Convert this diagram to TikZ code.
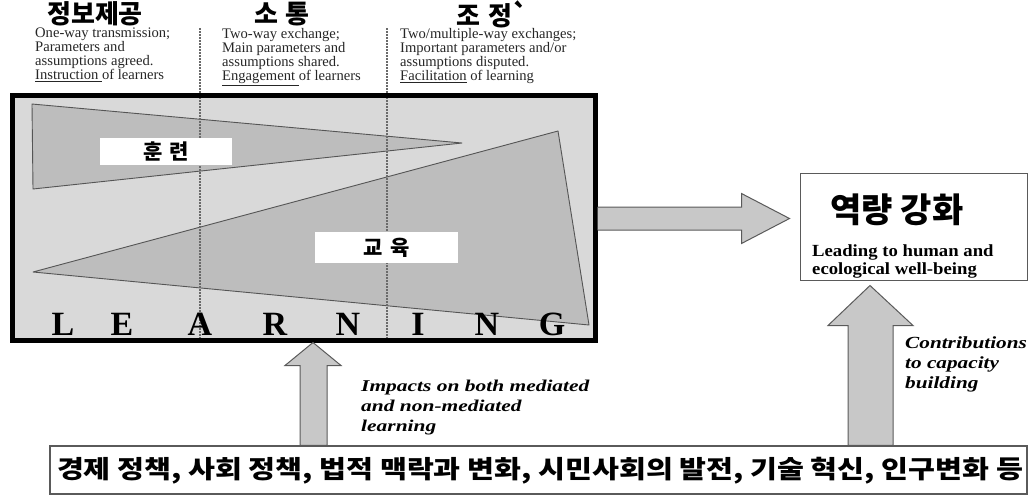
\documentclass[tikz,border=0pt]{standalone}
\usepackage{fontspec}
\usepackage{graphicx}
\setmainfont{Liberation Serif}
\newfontfamily\kr{Noto Sans CJK KR}
\usetikzlibrary{calc}
\definecolor{framefill}{HTML}{D9D9D9}
\definecolor{trifill}{HTML}{BDBDBD}
\definecolor{triline}{HTML}{555555}
\definecolor{arrfill}{HTML}{C8C8C8}
\definecolor{arrline}{HTML}{5A5A5A}
\definecolor{dashcol}{HTML}{6A6A6A}
\newcommand\widetext[2]{\scalebox{#1}[1]{\begin{tabular}{@{}l@{}}#2\end{tabular}}}
\tikzset{
  tri/.style={fill=trifill, draw=triline, line width=0.9pt, line join=round},
  guide/.style={draw=dashcol, line width=1.1pt, dash pattern=on 1.6pt off 1.4pt},
  labelbox/.style={fill=white, inner sep=0pt, font=\kr\bfseries\fontsize{21}{21}\selectfont},
  heading/.style={font=\kr\bfseries\fontsize{26}{26}\selectfont, inner sep=0pt},
  coltext/.style={font=\fontsize{14.6}{14}\selectfont, align=left, inner sep=0pt, anchor=north west, text=black!85},
  bigletter/.style={font=\bfseries\fontsize{34}{34}\selectfont, anchor=base, inner sep=0pt},
  note/.style={font=\bfseries\itshape\fontsize{16.5}{20}\selectfont, inner sep=0pt, anchor=north west},
  arrowfill/.style={fill=arrfill},
  arrowline/.style={draw=arrline, line width=1pt, line join=miter},
}
\begin{document}
\begin{tikzpicture}[x=1pt, y=-1pt]
\useasboundingbox (0,0) rectangle (1035,496);

% headings and column descriptions
\node[heading] (t1) at (95,14) {정보제공};
\node[heading] (t2) at (282,14) {소\hspace{0.3em}통};
\node[heading] (t3) at (493,14) {조\hspace{0.3em}정`};
\node[coltext] (h1) at (35,28) {One-way transmission;\\Parameters and\\assumptions agreed.\\\underline{Instruction }of learners};
\node[coltext] (h2) at (222,28) {Two-way exchange;\\Main parameters and\\assumptions shared.\\\underline{Engagement }of learners};
\node[coltext] (h3) at (400,28) {Two/multiple-way exchanges;\\Important parameters and/or\\assumptions disputed.\\\underline{Facilitation} of learning};

% learning frame (fill)
\node[fill=framefill, minimum width=583pt, minimum height=245pt, inner sep=0pt, outer sep=2.5pt] (learn) at (303.5,217.5) {};

% triangles
\draw[tri] (32,104) -- (462,143) -- (33,189) -- cycle;
\draw[tri] (33,272) -- (558,131) -- (589,325) -- cycle;

% dashed guides
\coordinate (g1) at (200,28);
\coordinate (g2) at (387,28);
\draw[guide] (g1) -- (g1 |- learn.south);
\draw[guide] (g2) -- (g2 |- learn.south);

% labels
\node[labelbox, minimum width=132pt, minimum height=27pt] (train) at (166,151.5) {훈\hspace{0.35em}련};
\node[labelbox, minimum width=143pt, minimum height=31pt] (edu) at (386.5,247.5) {교\hspace{0.35em}육};

% LEARNING letters
\foreach \ch/\px [count=\i] in {L/63,E/122,A/200,R/275,N/348,I/418,N/487,G/552}
  \node[bigletter] (lt\i) at (\px,335) {\ch};

% frame border
\draw[line width=5pt] (12,95) rectangle (595,340);

% capacity box
\node[draw=arrline, line width=1pt, minimum width=227pt, minimum height=107pt, inner sep=0pt] (cap) at (913.5,226.5) {};
\node[font=\kr\bfseries\fontsize{34}{34}\selectfont, inner sep=0pt] (captitle) at (897,210) {역량 강화};
\node[font=\bfseries\fontsize{17}{18}\selectfont, inner sep=0pt, anchor=north west] (capsub) at (812,244) {\widetext{1.1}{Leading to human and\\ecological well-being}};

% context box
\node[draw=arrline, line width=1.1pt, fill=white, minimum width=977pt, minimum height=48pt, inner sep=0pt] (ctx) at (538.5,470) {};
\node[font=\kr\bfseries\fontsize{25}{25}\selectfont, inner sep=0pt] (ctxtext) at (540,471) {\scalebox{1.17}[1]{경제 정책, 사회 정책, 법적 맥락과 변화, 시민사회의 발전, 기술 혁신, 인구변화 등}};

% arrow: learning -> capacity
\coordinate (ay) at (0,218.5);
\coordinate (ra0) at (learn.east |- ay);
\coordinate (ra1) at ($(cap.west |- ay)+(-10,0)$);
\fill[arrowfill] let \p1=(ra0), \p2=(ra1) in
  (\x1,\y1+11.5pt) -- (\x2-48pt,\y1+11.5pt) -- (\x2-48pt,\y1+25pt) -- (\x2,\y1)
  -- (\x2-48pt,\y1-25pt) -- (\x2-48pt,\y1-11.5pt) -- (\x1,\y1-11.5pt) -- cycle;
\draw[arrowline] let \p1=(ra0), \p2=(ra1) in
  (\x1,\y1+11.5pt) -- (\x2-48pt,\y1+11.5pt) -- (\x2-48pt,\y1+25pt) -- (\x2,\y1)
  -- (\x2-48pt,\y1-25pt) -- (\x2-48pt,\y1-11.5pt) -- (\x1,\y1-11.5pt);

% arrow: context -> learning
\coordinate (ax) at (313,0);
\coordinate (la) at (learn.south -| ax);
\filldraw[arrowfill, arrowline] let \p1=(la), \p2=(ctx.north) in
  (\x1,\y1) -- (\x1+28pt,\y1-23pt) -- (\x1+14pt,\y1-23pt) -- (\x1+14pt,\y2)
  -- (\x1-13pt,\y2) -- (\x1-13pt,\y1-23pt) -- (\x1-28pt,\y1-23pt) -- cycle;

% arrow: context -> capacity
\coordinate (bx) at (870,0);
\coordinate (ua) at ($(cap.south -| bx)+(0,5)$);
\filldraw[arrowfill, arrowline] let \p1=(ua), \p2=(ctx.north) in
  (\x1,\y1) -- (\x1+43pt,\y1-40pt) -- (\x1+23pt,\y1-40pt) -- (\x1+23pt,\y2)
  -- (\x1-22pt,\y2) -- (\x1-22pt,\y1-40pt) -- (\x1-42pt,\y1-40pt) -- cycle;

% arrow labels
\node[note] (impact) at (361,377) {\widetext{1.3}{Impacts on both mediated\\and non-mediated\\learning}};
\node[note, font=\bfseries\itshape\fontsize{17}{20}\selectfont] (contrib) at (905,334) {\widetext{1.25}{Contributions\\to capacity\\building}};
\end{tikzpicture}
\end{document}
